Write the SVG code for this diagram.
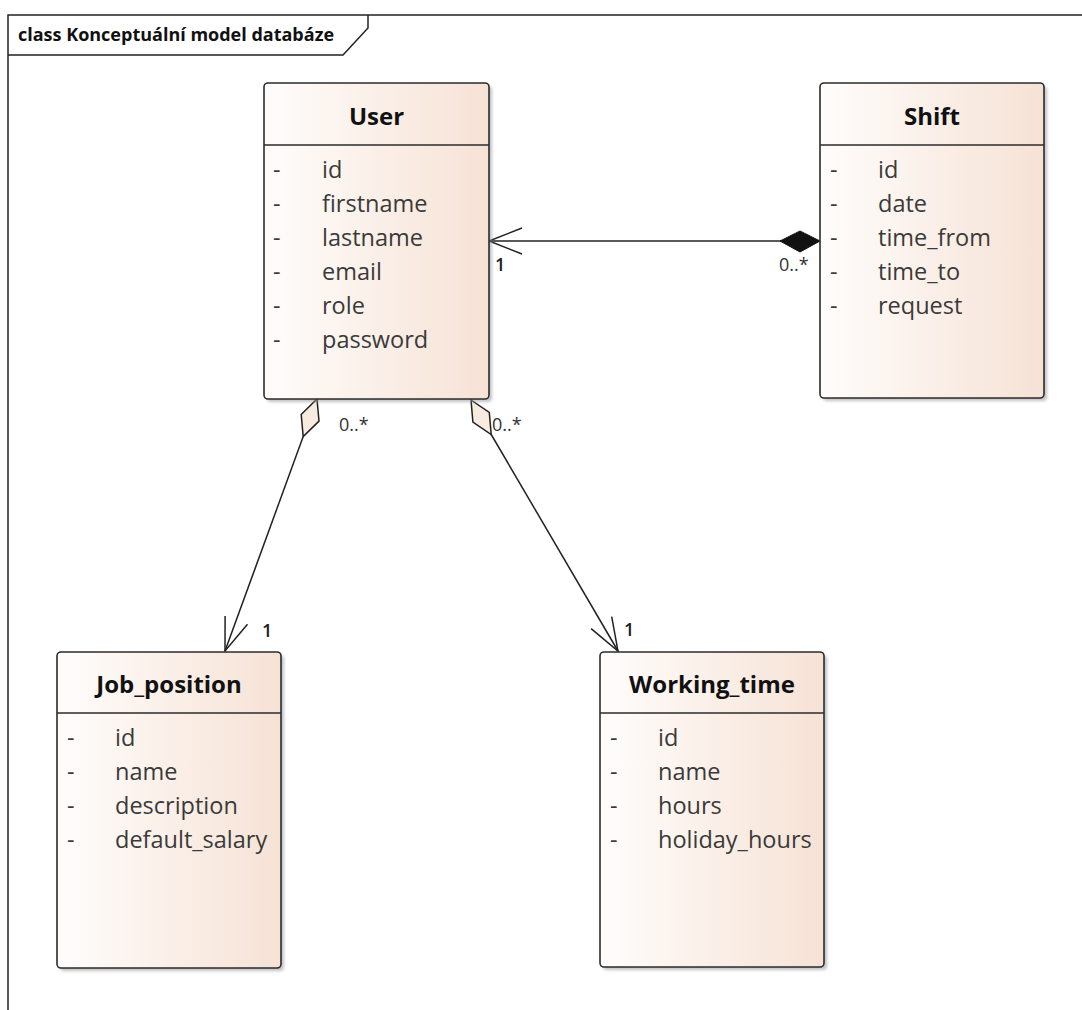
<svg xmlns="http://www.w3.org/2000/svg" width="1082" height="1010" viewBox="0 0 1082 1010">
  <defs>
    <linearGradient id="classFill" x1="0" y1="0" x2="1" y2="0">
      <stop offset="0" stop-color="#fffdfc"/>
      <stop offset="1" stop-color="#f6e2d5"/>
    </linearGradient>
    <filter id="shadow" x="-10%" y="-10%" width="120%" height="120%">
      <feGaussianBlur stdDeviation="1.5"/>
    </filter>
  </defs>
  <style>
    .frame { fill: none; stroke: #222; stroke-width: 1.5; }
    .frameTitle { font-family: "Open Sans", "Liberation Sans", sans-serif; font-weight: bold; font-size: 18px; fill: #111; }
    .shadow { fill: #9a9a9a; opacity: 0.6; }
    .box { fill: url(#classFill); stroke: #2b2b2b; stroke-width: 1.6; }
    .divider { stroke: #2b2b2b; stroke-width: 1.6; }
    .cname { font-family: "Open Sans", "Liberation Sans", sans-serif; font-weight: bold; font-size: 24px; fill: #111; text-anchor: middle; }
    .attr { font-family: "Open Sans", "Liberation Sans", sans-serif; font-size: 23.5px; fill: #3a3a3a; }
    .edge { fill: none; stroke: #222; stroke-width: 1.5; }
    .agg { fill: #f7ecdf; stroke: #222; stroke-width: 1.5; }
    .comp { fill: #111; stroke: #111; stroke-width: 1; }
    .mult { font-family: "Open Sans", "Liberation Sans", sans-serif; font-size: 18px; fill: #333; }
    .one { font-weight: 600; fill: #222; }
  </style>

  <rect width="1082" height="1010" fill="#ffffff"/>

  <!-- diagram frame with its name tab -->
  <g id="frame">
    <path class="frame" d="M8,1010 V15 H1082"/>
    <path class="frame" d="M8,55 H343 L368,28 V15"/>
    <text class="frameTitle" x="18" y="41">class Konceptuální model databáze</text>
  </g>

  <!-- connectors -->
  <g id="connectors">
    <!-- Shift composed into User -->
    <line class="edge" x1="489" y1="241" x2="781" y2="241"/>
    <polyline class="edge" points="522,228 489,241 522,254"/>
    <polygon class="comp" points="820,241 800,231 780,241 800,252"/>
    <text class="mult one" x="495" y="271">1</text>
    <text class="mult" x="779" y="271">0..*</text>

    <!-- User aggregates Job_position -->
    <line class="edge" x1="303.2" y1="436.6" x2="225" y2="651"/>
    <polygon class="agg" points="317,399 319,421.1 303.2,436.6 301.2,414.5"/>
    <polyline class="edge" points="247.5,624.2 225,651 225.1,616"/>
    <text class="mult" x="339" y="431">0..*</text>
    <text class="mult one" x="262" y="637">1</text>

    <!-- User aggregates Working_time -->
    <line class="edge" x1="491.2" y1="434.5" x2="618" y2="651"/>
    <polygon class="agg" points="471,400 489.3,412.5 491.2,434.5 472.9,422.1"/>
    <polyline class="edge" points="611.7,616.6 618,651 591.1,628.7"/>
    <text class="mult" x="492" y="431">0..*</text>
    <text class="mult one" x="624" y="636">1</text>
  </g>

  <!-- User -->
  <g id="User">
    <rect class="shadow" x="267" y="86" width="225" height="316" rx="4" filter="url(#shadow)"/>
    <rect class="box" x="264" y="83" width="225" height="316" rx="4"/>
    <line class="divider" x1="264" y1="145" x2="489" y2="145"/>
    <text class="cname" x="376.5" y="125">User</text>
    <g class="attr">
      <text x="273" y="178">-</text><text x="322" y="178">id</text>
      <text x="273" y="212">-</text><text x="322" y="212">firstname</text>
      <text x="273" y="246">-</text><text x="322" y="246">lastname</text>
      <text x="273" y="280">-</text><text x="322" y="280">email</text>
      <text x="273" y="314">-</text><text x="322" y="314">role</text>
      <text x="273" y="348">-</text><text x="322" y="348">password</text>
    </g>
  </g>

  <!-- Shift -->
  <g id="Shift">
    <rect class="shadow" x="823" y="86" width="224" height="315" rx="4" filter="url(#shadow)"/>
    <rect class="box" x="820" y="83" width="224" height="315" rx="4"/>
    <line class="divider" x1="820" y1="145" x2="1044" y2="145"/>
    <text class="cname" x="932" y="125">Shift</text>
    <g class="attr">
      <text x="830" y="178">-</text><text x="878" y="178">id</text>
      <text x="830" y="212">-</text><text x="878" y="212">date</text>
      <text x="830" y="246">-</text><text x="878" y="246">time_from</text>
      <text x="830" y="280">-</text><text x="878" y="280">time_to</text>
      <text x="830" y="314">-</text><text x="878" y="314">request</text>
    </g>
  </g>

  <!-- Job_position -->
  <g id="Job_position">
    <rect class="shadow" x="60" y="655" width="224" height="316" rx="4" filter="url(#shadow)"/>
    <rect class="box" x="57" y="652" width="224" height="316" rx="4"/>
    <line class="divider" x1="57" y1="713" x2="281" y2="713"/>
    <text class="cname" x="169" y="693">Job_position</text>
    <g class="attr">
      <text x="67" y="746">-</text><text x="115" y="746">id</text>
      <text x="67" y="780">-</text><text x="115" y="780">name</text>
      <text x="67" y="814">-</text><text x="115" y="814">description</text>
      <text x="67" y="848">-</text><text x="115" y="848">default_salary</text>
    </g>
  </g>

  <!-- Working_time -->
  <g id="Working_time">
    <rect class="shadow" x="603" y="655" width="224" height="315" rx="4" filter="url(#shadow)"/>
    <rect class="box" x="600" y="652" width="224" height="315" rx="4"/>
    <line class="divider" x1="600" y1="713" x2="824" y2="713"/>
    <text class="cname" x="712" y="693">Working_time</text>
    <g class="attr">
      <text x="610" y="746">-</text><text x="658" y="746">id</text>
      <text x="610" y="780">-</text><text x="658" y="780">name</text>
      <text x="610" y="814">-</text><text x="658" y="814">hours</text>
      <text x="610" y="848">-</text><text x="658" y="848">holiday_hours</text>
    </g>
  </g>
</svg>
